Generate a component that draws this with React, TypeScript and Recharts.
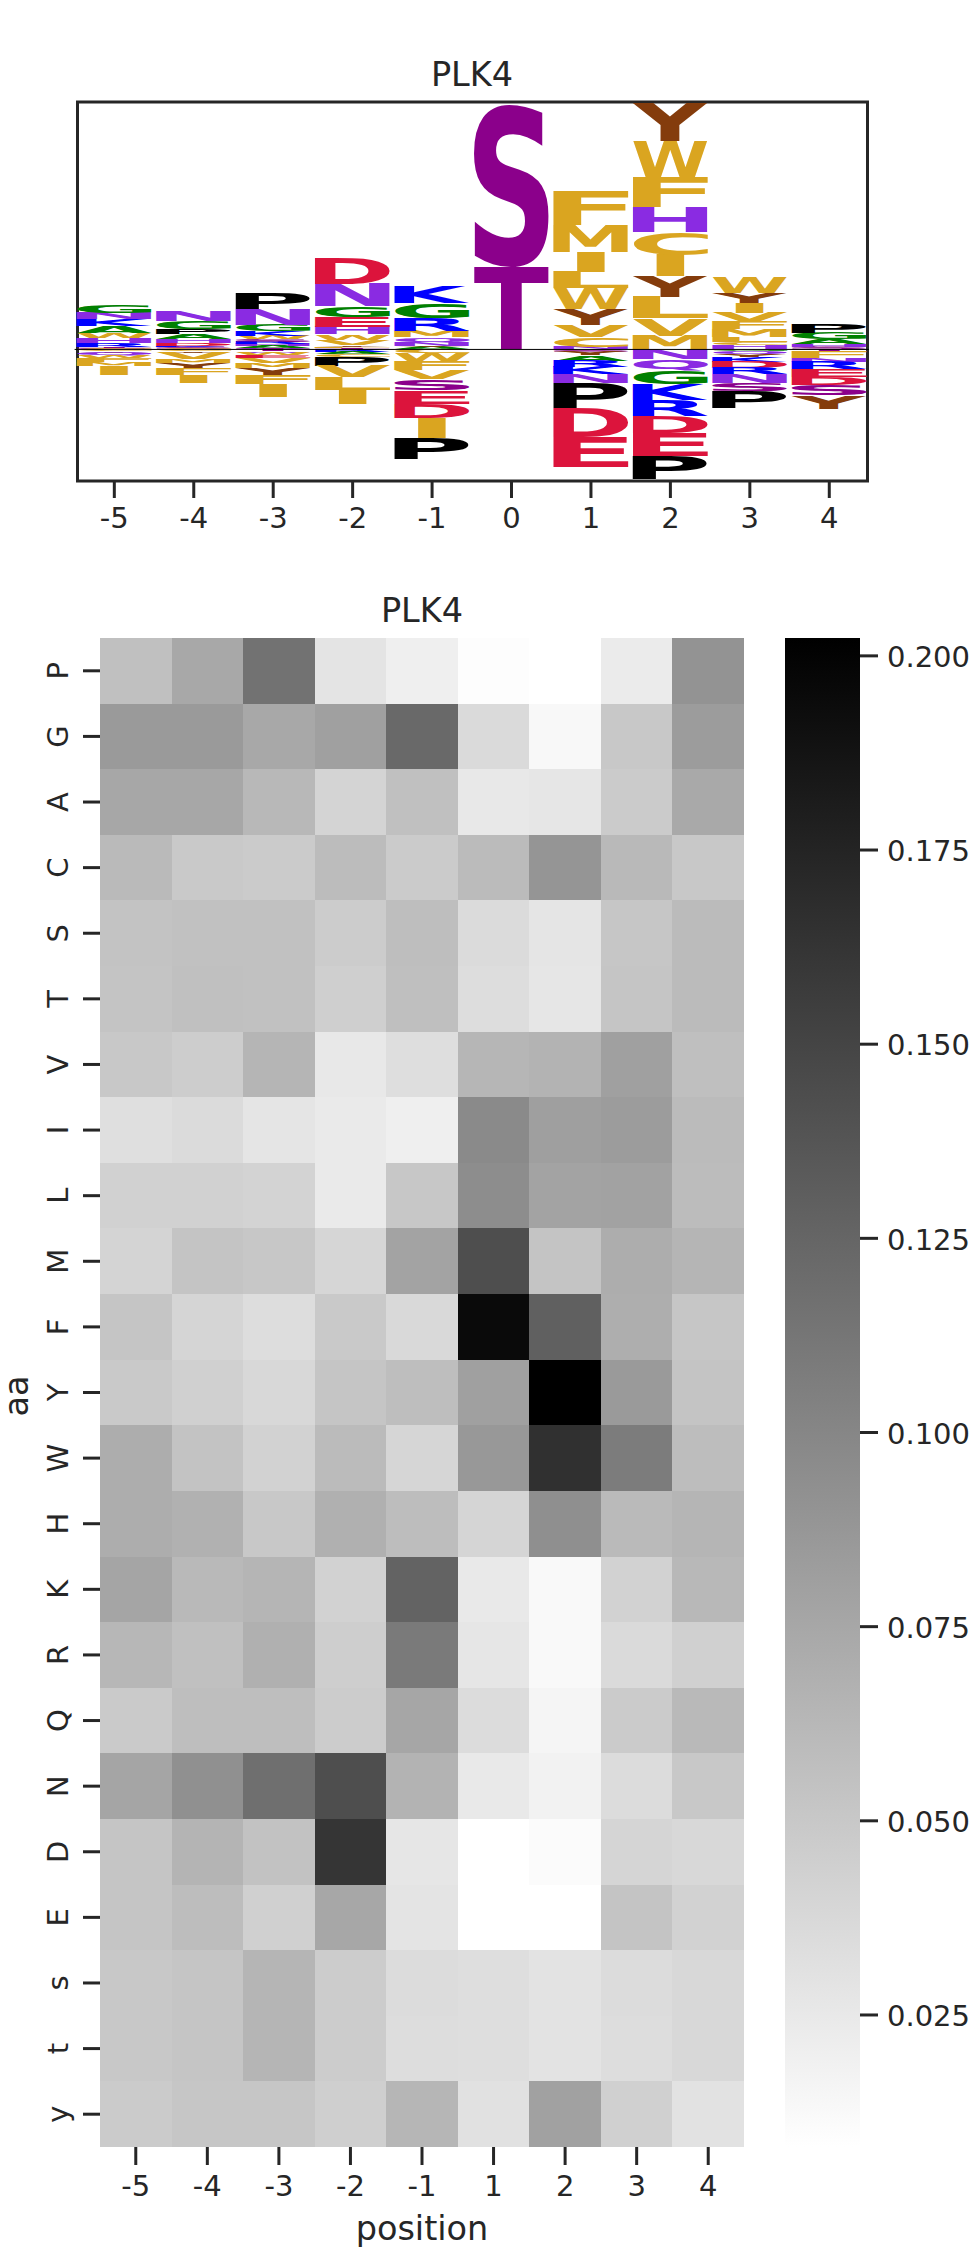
import { BarChart, Bar, XAxis, YAxis, ReferenceLine } from "recharts";

const positions = ["-5", "-4", "-3", "-2", "-1", "0", "1", "2", "3", "4"];

// logo stacks, bottom to top above the baseline
const upLetters = ["STRHWAKNG", "SKDHAPGN", "QAHRSWKGNP", "TLYVWHEGND", "AYNQMRGK", "TS", "NCVYWLIMF", "MVLYICHFWY", "HCLMFVIYW", "SHAGP"];
const upHeights = [
  [4, 4, 10, 17, 15, 20, 20, 20, 25],
  [6, 5, 7, 13, 15, 16, 23, 30],
  [3, 7, 6, 7, 8, 10, 14, 18, 47, 45],
  [3, 5, 5, 15, 17, 21, 31, 32, 68, 76],
  [6, 4, 10, 16, 19, 40, 45, 50],
  [250, 488],
  [8, 30, 35, 48, 62, 49, 60, 82, 101],
  [41, 52, 64, 62, 64, 69, 75, 90, 107, 112],
  [13, 9, 16, 24, 23, 25, 29, 29, 46],
  [8, 8, 14, 18, 28],
];

// logo stacks, top to bottom below the baseline
const dnLetters = ["CYQWFMI", "CYVMYFI", "TQWEVMYFI", "RACPVLI", "CWFVSEDIP", "", "SYARKNPDE", "NQGKRDEP", "GQYKDRNSP", "TFNREDSY"];
const dnHeights = [
  [6, 4, 7, 8, 12, 12, 28],
  [6, 5, 18, 13, 15, 20, 24],
  [6, 4, 7, 9, 15, 15, 21, 27, 39],
  [7, 6, 9, 27, 34, 39, 42],
  [12, 23, 27, 28, 32, 40, 43, 60, 63],
  [],
  [7, 10, 17, 20, 21, 26, 76, 85, 91],
  [30, 35, 40, 47, 47, 51, 69, 70],
  [5, 9, 8, 15, 18, 20, 25, 24, 51],
  [8, 19, 10, 23, 22, 24, 32, 39],
];

const heatPositions = ["-5", "-4", "-3", "-2", "-1", "1", "2", "3", "4"];
const aminoAcids = ["P", "G", "A", "C", "S", "T", "V", "I", "L", "M", "F", "Y", "W", "H", "K", "R", "Q", "N", "D", "E", "s", "t", "y"];
const heatValues = [
  [0.056, 0.0743, 0.1154, 0.0286, 0.0202, 0.0095, 0.008, 0.0232, 0.0903],
  [0.085, 0.085, 0.0743, 0.0804, 0.1223, 0.0362, 0.0133, 0.0499, 0.0834],
  [0.0751, 0.0751, 0.0621, 0.0408, 0.056, 0.0255, 0.027, 0.0476, 0.0735],
  [0.0606, 0.0491, 0.0476, 0.0591, 0.0476, 0.0598, 0.0888, 0.0613, 0.0499],
  [0.0537, 0.0552, 0.0552, 0.0469, 0.0575, 0.0354, 0.0278, 0.0514, 0.0598],
  [0.053, 0.056, 0.0552, 0.0446, 0.0568, 0.0339, 0.027, 0.0522, 0.0598],
  [0.0499, 0.0461, 0.0644, 0.0255, 0.0331, 0.0636, 0.0659, 0.0804, 0.0568],
  [0.0324, 0.0354, 0.0278, 0.024, 0.0202, 0.0972, 0.0812, 0.0834, 0.0598],
  [0.0431, 0.0431, 0.0415, 0.024, 0.0507, 0.0949, 0.0781, 0.0789, 0.0591],
  [0.0408, 0.053, 0.0507, 0.0392, 0.0781, 0.1429, 0.053, 0.0705, 0.0644],
  [0.0522, 0.04, 0.0339, 0.0491, 0.037, 0.1947, 0.1292, 0.0697, 0.0514],
  [0.0491, 0.0438, 0.0377, 0.0522, 0.0575, 0.0804, 0.2023, 0.085, 0.053],
  [0.0705, 0.0537, 0.0423, 0.0598, 0.0392, 0.0865, 0.1657, 0.1078, 0.0583],
  [0.0705, 0.0674, 0.0499, 0.0682, 0.0583, 0.04, 0.0933, 0.0606, 0.0644],
  [0.0766, 0.0613, 0.0644, 0.0423, 0.1269, 0.0248, 0.0126, 0.0423, 0.0621],
  [0.0629, 0.056, 0.0682, 0.0453, 0.1093, 0.027, 0.0126, 0.0362, 0.0438],
  [0.0484, 0.0575, 0.0575, 0.0469, 0.0758, 0.0347, 0.0156, 0.0476, 0.0613],
  [0.0766, 0.0926, 0.1177, 0.1429, 0.0659, 0.0248, 0.0179, 0.0347, 0.0499],
  [0.0522, 0.0652, 0.0545, 0.1619, 0.027, 0.008, 0.011, 0.04, 0.0377],
  [0.0522, 0.0583, 0.0438, 0.0751, 0.0286, 0.008, 0.008, 0.053, 0.0423],
  [0.0499, 0.0522, 0.0644, 0.0469, 0.0347, 0.0331, 0.0293, 0.0347, 0.0377],
  [0.0499, 0.0522, 0.0644, 0.0469, 0.0339, 0.0331, 0.0293, 0.0339, 0.0377],
  [0.0476, 0.0514, 0.0514, 0.0446, 0.0636, 0.0309, 0.0796, 0.0438, 0.0301],
];

const colorbarTicks = [0.025, 0.05, 0.075, 0.1, 0.125, 0.15, 0.175, 0.2];
const colorMin = 0.008;
const colorMax = 0.2023;

const INK = "#262626";
const FONT = '"DejaVu Sans"';

const letterColors: Record<string, string> = {
  S: "#8b008b", T: "#8b008b",
  F: "#daa520", M: "#daa520", I: "#daa520", L: "#daa520", W: "#daa520", V: "#daa520", C: "#daa520",
  Y: "#843c0c",
  H: "#8a2be2", N: "#8a2be2", Q: "#8a2be2",
  A: "#008000", G: "#008000",
  K: "#0000ff", R: "#0000ff",
  D: "#dc143c", E: "#dc143c",
  P: "#000000",
};

const logoData = positions.map((position, i) => {
  const row: any = { position, up: upLetters[i], dn: dnLetters[i] };
  upHeights[i].forEach((h, j) => (row["up" + j] = h));
  dnHeights[i].forEach((h, j) => (row["dn" + j] = -h));
  return row;
});

const heatData = aminoAcids.map((aa, r) => {
  const row: any = { aa, values: heatValues[r] };
  heatPositions.forEach((_, c) => (row["w" + c] = 1));
  return row;
});

const colorbarData = [{ name: "cbar", range: [colorMin, colorMax] }];

// ink box of a letter, so it can be stretched to fill its slot
const metricsCache: Record<string, any> = {};
function letterBox(letter: string) {
  if (!metricsCache[letter]) {
    const ctx = document.createElement("canvas").getContext("2d")!;
    ctx.font = `bold 100px ${FONT}`;
    const m = ctx.measureText(letter);
    metricsCache[letter] = {
      left: m.actualBoundingBoxLeft,
      right: m.actualBoundingBoxRight,
      ascent: m.actualBoundingBoxAscent,
      descent: m.actualBoundingBoxDescent,
    };
  }
  return metricsCache[letter];
}

const glyphShape = (side: "up" | "dn", j: number) => (props: any) => {
  const letter = props.payload?.[side]?.[j];
  if (!letter || !props.height) return <g />;
  const top = Math.min(props.y, props.y + props.height);
  const h = Math.abs(props.height);
  const box = letterBox(letter);
  // the I keeps its narrow block, every other letter fills the slot
  const w = letter === "I" ? props.width * 0.37 : props.width;
  const x = props.x + (props.width - w) / 2;
  const sx = w / (box.left + box.right);
  const sy = h / (box.ascent + box.descent);
  return (
    <text
      transform={`translate(${x + box.left * sx},${top + box.ascent * sy}) scale(${sx},${sy})`}
      fontFamily={FONT}
      fontWeight="bold"
      fontSize={100}
      fill={letterColors[letter]}
    >
      {letter}
    </text>
  );
};

function grey(value: number) {
  const g = Math.round(255 * (1 - (value - colorMin) / (colorMax - colorMin)));
  return `rgb(${g},${g},${g})`;
}

const cellShape = (c: number) => (props: any) => (
  <rect
    x={props.x}
    y={props.y}
    width={props.width}
    height={props.height}
    fill={grey(props.payload.values[c])}
    shapeRendering="crispEdges"
  />
);

const RotatedTick = ({ y, payload }: any) => (
  <text
    x={68}
    y={y}
    transform={`rotate(-90,68,${y})`}
    textAnchor="middle"
    fontSize={29}
    fill={INK}
    fontFamily={FONT}
  >
    {payload.value}
  </text>
);

const tickLine = { stroke: INK, strokeWidth: 3 };
const tickText = { fill: INK, fontSize: 29, fontFamily: FONT };

export default function App() {
  return (
    <div style={{ position: "absolute", left: 0, top: 0, width: 973, height: 2247, background: "#fff", fontFamily: FONT }}>
      <div style={{ position: "absolute", left: 0, top: 0 }}>
        <BarChart
          width={973}
          height={560}
          data={logoData}
          stackOffset="sign"
          barCategoryGap="2.5%"
          margin={{ top: 102, left: 74.6, right: 104, bottom: 29 }}
        >
          <XAxis
            dataKey="position"
            interval={0}
            height={50}
            tickSize={17}
            tickMargin={9}
            axisLine={false}
            tickLine={tickLine}
            tick={tickText}
          />
          <YAxis hide type="number" domain={[-394, 741]} allowDataOverflow />
          {upHeights[7].map((_, j) => (
            <Bar key={"up" + j} dataKey={"up" + j} stackId="logo" isAnimationActive={false} shape={glyphShape("up", j)} />
          ))}
          {dnHeights[4].map((_, j) => (
            <Bar key={"dn" + j} dataKey={"dn" + j} stackId="logo" isAnimationActive={false} shape={glyphShape("dn", j)} />
          ))}
          <ReferenceLine y={0} stroke="#000" strokeWidth={1} />
          <rect x={77.5} y={102} width={790} height={379} fill="none" stroke={INK} strokeWidth={3} />
          <text x={472} y={86} textAnchor="middle" fontSize={33.5} fill={INK}>PLK4</text>
        </BarChart>
      </div>

      <div style={{ position: "absolute", left: 0, top: 560 }}>
        <BarChart
          width={780}
          height={1687}
          data={heatData}
          layout="vertical"
          barCategoryGap={0}
          margin={{ top: 78, left: 0, right: 36, bottom: 0 }}
        >
          <XAxis
            type="number"
            domain={[0, 9]}
            ticks={heatPositions.map((_, c) => c + 0.5)}
            tickFormatter={(v: number) => heatPositions[Math.floor(v)]}
            interval={0}
            height={100}
            tickSize={18}
            tickMargin={10}
            axisLine={false}
            tickLine={tickLine}
            tick={tickText}
          />
          <YAxis
            type="category"
            dataKey="aa"
            interval={0}
            width={100}
            tickSize={17}
            axisLine={false}
            tickLine={tickLine}
            tick={<RotatedTick />}
          />
          {heatPositions.map((_, c) => (
            <Bar key={c} dataKey={"w" + c} stackId="heat" isAnimationActive={false} shape={cellShape(c)} />
          ))}
          <text x={422} y={62} textAnchor="middle" fontSize={33.5} fill={INK}>PLK4</text>
          <text x={28} y={836} transform="rotate(-90,28,836)" textAnchor="middle" fontSize={33.5} fill={INK}>aa</text>
          <text x={422} y={1680} textAnchor="middle" fontSize={33.5} fill={INK}>position</text>
        </BarChart>
      </div>

      <div style={{ position: "absolute", left: 785, top: 560 }}>
        <BarChart
          width={188}
          height={1687}
          data={colorbarData}
          barCategoryGap={0}
          margin={{ top: 78, left: 0, right: 0, bottom: 100 }}
        >
          <defs>
            <linearGradient id="greyRamp" x1="0" y1="0" x2="0" y2="1">
              <stop offset="0" stopColor="#000" />
              <stop offset="1" stopColor="#fff" />
            </linearGradient>
          </defs>
          <XAxis dataKey="name" hide />
          <YAxis
            orientation="right"
            type="number"
            domain={[colorMin, colorMax]}
            ticks={colorbarTicks}
            tickFormatter={(v: number) => v.toFixed(3)}
            interval={0}
            width={113}
            tickSize={18}
            tickMargin={9}
            axisLine={false}
            tickLine={tickLine}
            tick={{ ...tickText, dy: 1 }}
            allowDataOverflow
          />
          <Bar dataKey="range" fill="url(#greyRamp)" isAnimationActive={false} />
        </BarChart>
      </div>
    </div>
  );
}
